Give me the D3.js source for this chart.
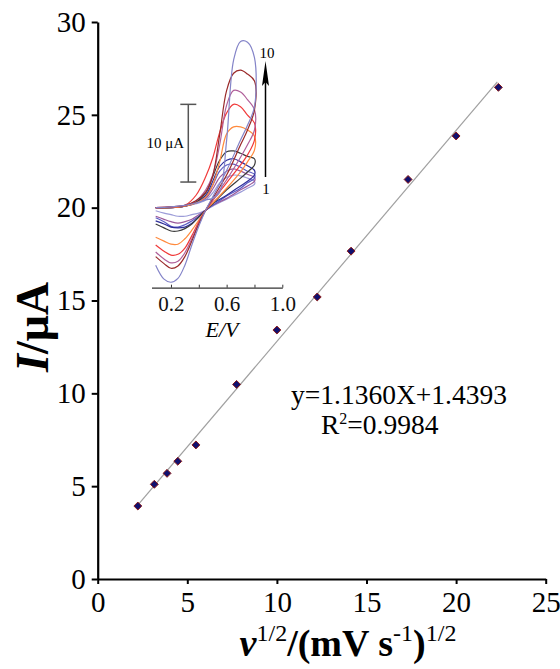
<!DOCTYPE html>
<html>
<head>
<meta charset="utf-8">
<script src="https://cdn.jsdelivr.net/npm/d3@7"></script>
<style>
  body { margin: 0; background: #fff; }
  svg text { font-family: "Liberation Serif", "Times New Roman", serif; }
</style>
</head>
<body>
<svg id="chart" width="560" height="669"></svg>
<script>
// main plot: peak current vs square root of scan rate
var sqrtRate = [2.24, 3.16, 3.87, 4.47, 5.48, 7.75, 10.0, 12.25, 14.14, 17.32, 20.0, 22.36];
var peakCurrent = [3.93, 5.10, 5.69, 6.34, 7.22, 10.48, 13.41, 15.19, 17.66, 21.52, 23.86, 26.48];
var fitSlope = 1.1360, fitIntercept = 1.4393;
var fitRange = [2.2, 22.3];
var xTicks = [0, 5, 10, 15, 20, 25];
var yTicks = [0, 5, 10, 15, 20, 25, 30];

// inset: cyclic voltammograms 1..10 (current in uA, relative)
var upperE = [0.09, 0.2, 0.3, 0.38, 0.45, 0.5, 0.55, 0.6, 0.65, 0.7, 0.75, 0.8];
var lowerE = [0.8, 0.75, 0.7, 0.6, 0.5, 0.45, 0.4, 0.35, 0.3, 0.25, 0.2, 0.15, 0.09];
var cvUpper = [
  [0.3, 0.3, 0.5, 0.8, 1.3, 2.2, 3.5, 4.2, 4.5, 4.4, 4.1, 3.7],
  [0.3, 0.3, 0.5, 0.9, 1.5, 2.7, 4.2, 5.0, 5.3, 5.0, 4.6, 4.2],
  [0.3, 0.3, 0.5, 0.9, 1.7, 3.2, 5.0, 5.8, 5.9, 5.5, 5.0, 4.6],
  [0.3, 0.3, 0.5, 1.0, 1.9, 3.7, 5.6, 6.4, 6.6, 6.2, 5.7, 5.1],
  [0.3, 0.3, 0.5, 1.0, 2.2, 4.3, 6.4, 7.5, 7.6, 7.3, 6.9, 6.6],
  [0.3, 0.3, 0.5, 0.9, 1.7, 3.2, 6.2, 9.8, 10.7, 10.7, 10.3, 9.5],
  [0.3, 0.4, 0.6, 1.9, 4.3, 6.7, 10.0, 12.5, 13.6, 13.3, 12.2, 11.2],
  [0.3, 0.4, 0.6, 1.2, 2.6, 4.5, 8.4, 13.5, 15.4, 15.2, 14.2, 12.9],
  [0.3, 0.4, 0.6, 1.2, 2.3, 4.4, 9.7, 15.4, 17.6, 18.0, 17.5, 16.6],
  [0.3, 0.4, 0.6, 0.9, 1.3, 1.5, 2.3, 9.0, 19.3, 21.7, 21.6, 19.6]
];
var cvLower = [
  [3.3, 2.8, 2.3, 1.4, 0.5, 0, -0.4, -0.6, -0.8, -0.8, -0.6, -0.4, -0.1],
  [3.7, 3.1, 2.6, 1.5, 0.6, 0, -0.6, -1.2, -1.5, -1.7, -1.5, -1.2, -0.8],
  [4.1, 3.5, 2.8, 1.8, 0.6, 0, -0.8, -1.4, -1.9, -2.2, -2.1, -1.5, -1.0],
  [4.5, 3.7, 3.1, 1.9, 0.8, 0, -0.9, -1.7, -2.2, -2.3, -2.2, -1.8, -1.4],
  [5.8, 4.9, 4.1, 2.6, 0.8, 0, -0.9, -1.8, -2.4, -2.7, -2.7, -2.3, -1.8],
  [7.7, 6.2, 4.9, 2.8, 0.9, 0, -1.3, -2.6, -3.7, -4.4, -4.4, -4.0, -3.5],
  [9.0, 7.1, 5.8, 3.5, 1.2, 0, -1.5, -3.3, -4.9, -5.7, -5.8, -5.3, -4.5],
  [10.3, 8.4, 6.8, 3.9, 1.3, 0, -1.7, -3.7, -5.5, -6.6, -6.8, -6.3, -5.4],
  [12.9, 10.3, 8.4, 4.5, 1.5, 0, -1.8, -4.0, -6.0, -7.2, -7.5, -6.9, -6.0],
  [13.3, 10.9, 9.0, 5.1, 1.7, 0, -2.1, -4.5, -7.1, -8.8, -9.3, -8.9, -7.1]
];
var cvColors = ["#9c9cd8", "#9b5a9b", "#5c5cc4", "#2e2e9a", "#3c3c3c",
                "#ff8a3d", "#f03a3a", "#b0609a", "#9a2a2a", "#8484c8"];
var insetTicks = [0.2, 0.4, 0.6, 0.8, 1.0];
var insetLabels = [0.2, 0.6, 1.0];
var scaleBar = [3.6, 13.6];

var svg = d3.select("#chart");

var x = d3.scaleLinear().domain([0, 25]).range([97.7, 545.7]);
var y = d3.scaleLinear().domain([0, 30]).range([579, 22]);

var xIn = d3.scaleLinear().domain([0.06, 1.0]).range([151.5, 282.3]);
var yIn = d3.scaleLinear().domain([-10, 22]).range([287.7, 39.1]);

// ---- inset curves
var cvLine = d3.line()
    .x(d => xIn(d[0]))
    .y(d => yIn(d[1]))
    .curve(d3.curveCatmullRom.alpha(0.5));

var inset = svg.append("g");
cvUpper.forEach(function(up, i) {
    var pts = upperE.map((e, j) => [e, up[j]])
        .concat(lowerE.map((e, j) => [e, cvLower[i][j]]));
    inset.append("path")
        .attr("d", cvLine(pts))
        .attr("fill", "none")
        .attr("stroke", cvColors[i])
        .attr("stroke-width", 1.2);
});

var insetAxis = inset.append("g")
    .attr("transform", "translate(0," + yIn(-10) + ")")
    .call(d3.axisBottom(xIn).tickValues(insetTicks).tickSize(-3).tickSizeOuter(0)
        .tickPadding(8)
        .tickFormat(d => insetLabels.indexOf(d) >= 0 ? d3.format(".1f")(d) : ""));
insetAxis.select(".domain").attr("stroke", "#333").attr("stroke-width", 1.2);
insetAxis.selectAll(".tick line").attr("stroke", "#333");
insetAxis.selectAll("text").attr("font-size", 21).attr("fill", "#111")
    .attr("font-family", "Liberation Serif");

inset.append("text")
    .attr("x", 222).attr("y", 337)
    .attr("text-anchor", "middle")
    .attr("font-size", 22).attr("font-style", "italic")
    .text("E/V");

// scale bar
var barX = 188.3;
inset.append("line")
    .attr("x1", barX).attr("x2", barX)
    .attr("y1", yIn(scaleBar[0])).attr("y2", yIn(scaleBar[1]))
    .attr("stroke", "#555").attr("stroke-width", 1.5);
scaleBar.forEach(function(v) {
    inset.append("line")
        .attr("x1", barX - 8).attr("x2", barX + 8)
        .attr("y1", yIn(v)).attr("y2", yIn(v))
        .attr("stroke", "#555").attr("stroke-width", 1.5);
});
inset.append("text")
    .attr("x", 184).attr("y", yIn((scaleBar[0] + scaleBar[1]) / 2) + 5)
    .attr("text-anchor", "end")
    .attr("font-size", 15).attr("fill", "#000")
    .text("10 \u03bcA");

// arrow 1 -> 10
var arrowX = 265.5;
inset.append("line")
    .attr("x1", arrowX).attr("x2", arrowX)
    .attr("y1", 177).attr("y2", 80)
    .attr("stroke", "#000").attr("stroke-width", 1.5);
inset.append("path")
    .attr("d", "M" + arrowX + ",61 L" + (arrowX + 3.5) + ",86 L" + arrowX + ",82 L" + (arrowX - 3.5) + ",86 Z")
    .attr("fill", "#000");
inset.append("text").attr("x", 267).attr("y", 58).attr("text-anchor", "middle")
    .attr("font-size", 15).attr("fill", "#000").text("10");
inset.append("text").attr("x", 266).attr("y", 194).attr("text-anchor", "middle")
    .attr("font-size", 15).attr("fill", "#000").text("1");

// ---- main axes
var gx = svg.append("g")
    .attr("transform", "translate(0," + y(0) + ")")
    .call(d3.axisBottom(x).tickValues(xTicks).tickSize(5).tickSizeOuter(0).tickPadding(7));
var gy = svg.append("g")
    .attr("transform", "translate(" + x(0) + ",0)")
    .call(d3.axisLeft(y).tickValues(yTicks).tickSize(6).tickSizeOuter(0).tickPadding(6));
[gx, gy].forEach(function(g) {
    g.select(".domain").attr("stroke", "#000").attr("stroke-width", 2.2);
    g.selectAll(".tick line").attr("stroke", "#000").attr("stroke-width", 2);
    g.selectAll("text").attr("font-size", 29).attr("fill", "#000")
        .attr("font-family", "Liberation Serif");
});

// fit line
svg.append("line")
    .attr("x1", x(fitRange[0])).attr("y1", y(fitSlope * fitRange[0] + fitIntercept))
    .attr("x2", x(fitRange[1])).attr("y2", y(fitSlope * fitRange[1] + fitIntercept))
    .attr("stroke", "#a0a0a0").attr("stroke-width", 1.2);

// data markers
svg.selectAll(".pt")
    .data(sqrtRate.map((v, i) => ({x: v, y: peakCurrent[i]})))
    .enter().append("path")
    .attr("class", "pt")
    .attr("transform", d => "translate(" + x(d.x) + "," + y(d.y) + ")")
    .attr("d", d3.symbol().type(d3.symbolDiamond2).size(40))
    .attr("fill", "#10106e")
    .attr("stroke", "#8b1a1a")
    .attr("stroke-width", 1);

// equation
svg.append("text").attr("x", 291).attr("y", 404)
    .attr("font-size", 27.5).text("y=1.1360X+1.4393");
var r2 = svg.append("text").attr("x", 321).attr("y", 434).attr("font-size", 27.5);
r2.append("tspan").text("R");
r2.append("tspan").attr("font-size", 16).attr("dy", -10).text("2");
r2.append("tspan").attr("dy", 10).text("=0.9984");

// axis titles
var yl = svg.append("text")
    .attr("transform", "translate(48,327) rotate(-90)")
    .attr("text-anchor", "middle")
    .attr("font-size", 46).attr("font-weight", "bold");
yl.append("tspan").attr("font-style", "italic").text("I");
yl.append("tspan").text("/\u03bcA");

var xl = svg.append("text")
    .attr("x", 348).attr("y", 656)
    .attr("text-anchor", "middle")
    .attr("font-size", 38).attr("font-weight", "bold");
xl.append("tspan").attr("font-style", "italic").text("\u03bd");
xl.append("tspan").attr("font-size", 24).attr("font-weight", "normal").attr("dy", -15).text("1/2");
xl.append("tspan").attr("dy", 15).text("/(mV s");
xl.append("tspan").attr("font-size", 24).attr("font-weight", "normal").attr("dy", -15).text("-1");
xl.append("tspan").attr("dy", 15).text(")");
xl.append("tspan").attr("font-size", 24).attr("font-weight", "normal").attr("dy", -15).text("1/2");
</script>
</body>
</html>
